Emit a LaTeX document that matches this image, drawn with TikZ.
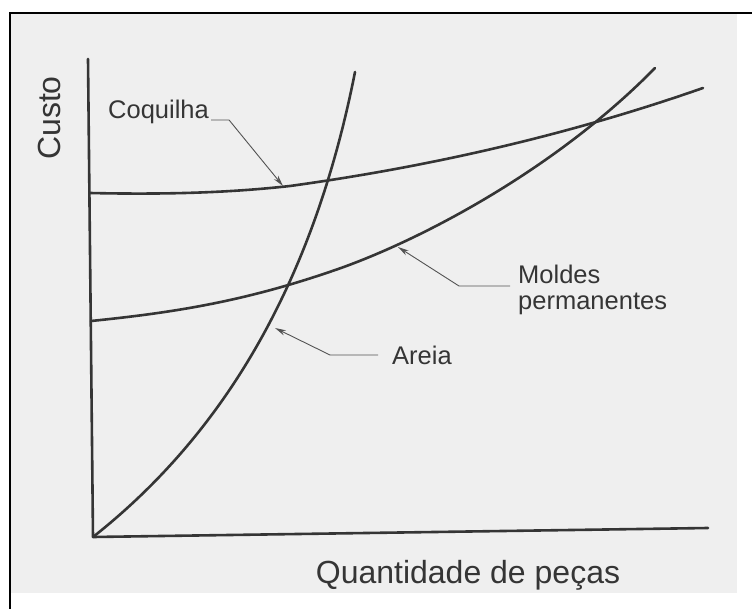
\documentclass[tikz,border=0pt]{standalone}
\usepackage{fontspec}
\setmainfont{Liberation Sans}
\usetikzlibrary{arrows.meta}
\definecolor{paper}{HTML}{EFEFEF}
\definecolor{ink}{HTML}{353535}

\begin{document}
\begin{tikzpicture}[x=1pt,y=-1pt,
  curve/.style={ink, line width=2.6pt, line cap=round, line join=round},
  leader/.style={ink!85, line width=0.9pt, -{Stealth[length=11pt,width=5.5pt]}},
  lbl/.style={text=ink, font=\fontsize{25.5}{27}\selectfont, inner sep=0pt},
  axlbl/.style={text=ink, font=\fontsize{32}{34}\selectfont, inner sep=0pt}]
  \useasboundingbox (0,0) rectangle (752,609);
  \fill[white] (0,0) rectangle (752,609);
  \fill[paper] (11,14) rectangle (737,593);
  \draw[line width=2pt] (752,13) -- (10,13) -- (10,609);
  % axes
  \coordinate (O) at (93,537);
  \coordinate (ytop) at (88,59);
  \coordinate (xend) at (708,528);
  \draw[curve] (ytop) -- (O) -- (xend);
  \node[axlbl, rotate=90, anchor=base] (custo) at (60,118) {Custo};
  \node[axlbl, anchor=base] (qtd) at (468,583) {Quantidade de peças};
  % cost curves
  \draw[curve] (90,193) .. controls (180,195) and (240,191.5) .. (290,186)
    .. controls (420,168) and (560,138) .. (703,88);
  \draw[curve] (91,321) .. controls (180,312) and (250,300) .. (341,268)
    .. controls (430,236) and (560,165) .. (655,68);
  \draw[curve] (O) .. controls (212,443) and (310,300) .. (355,72);
  % labels
  \coordinate (coqtip) at (283,186);
  \coordinate (moltip) at (398,247);
  \coordinate (aretip) at (275,328);
  \node[lbl, anchor=base west] (coq) at (108,119) {Coquilha};
  \node[lbl, anchor=base west] (mold) at (518,284) {Moldes};
  \node[lbl, anchor=base west] (perm) at (518,310) {permanentes};
  \node[lbl, anchor=base west] (areia) at (392,365) {Areia};
  \draw[leader] ([shift={(2,1)}]coq.base east) -- ++(18,0) -- (coqtip);
  \draw[leader] ([shift={(-8,2)}]mold.base west) -- ++(-51,0) -- (moltip);
  \draw[leader] ([shift={(-14,-10)}]areia.base west) -- ++(-48,0) -- (aretip);
\end{tikzpicture}
\end{document}
